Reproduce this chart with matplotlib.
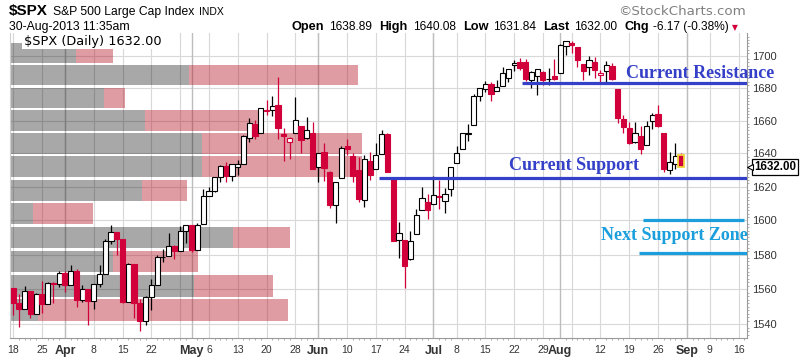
import matplotlib
matplotlib.use("Agg")
import matplotlib.pyplot as plt
import matplotlib.transforms as mtransforms
from matplotlib.patches import Rectangle
from matplotlib.ticker import FixedLocator, FixedFormatter, NullFormatter
import numpy as np
import pandas as pd

# ---------------- data ----------------
holidays = ["2013-03-29", "2013-05-27", "2013-07-04", "2013-09-02"]
sessions = pd.bdate_range("2013-03-18", "2013-09-17").drop(pd.to_datetime(holidays))

opens = [1560.70, 1552.10, 1548.34, 1558.71, 1545.90, 1556.89, 1551.69, 1563.75, 1562.86,
         1569.18, 1562.17, 1570.25, 1553.69, 1559.98, 1553.26, 1563.11, 1568.61, 1587.73, 1593.30,
         1588.84, 1552.36, 1574.57, 1552.03, 1541.61, 1555.25, 1562.50, 1578.78, 1578.93, 1585.16,
         1582.34, 1593.58,
         1597.55, 1582.77, 1597.60, 1614.40, 1617.55, 1625.95, 1632.69, 1626.69, 1632.10, 1633.75,
         1649.13, 1658.07, 1652.45, 1665.71, 1666.20, 1669.39, 1651.62, 1646.67, 1652.63, 1656.57,
         1649.14, 1652.13,
         1631.71, 1640.73, 1629.05, 1609.29, 1625.27, 1644.67, 1638.64, 1629.94, 1612.15, 1635.52,
         1630.64, 1639.77, 1651.83, 1624.62, 1588.62, 1588.77, 1577.52, 1592.27, 1606.44, 1611.12,
         1609.78, 1614.29, 1611.48, 1618.65, 1634.20, 1642.89, 1651.56, 1657.41, 1675.26, 1679.69,
         1682.70, 1677.91, 1681.05, 1686.15, 1694.41, 1696.10, 1696.06, 1685.21, 1687.31, 1690.32,
         1685.79, 1687.76,
         1689.42, 1706.10, 1708.01, 1705.79, 1695.30, 1693.35, 1696.10, 1688.37, 1690.65, 1693.88,
         1679.61, 1661.22, 1655.25, 1646.81, 1650.66, 1645.03, 1659.92, 1664.29, 1652.54, 1630.25,
         1633.50, 1638.89]
highs = [1560.70, 1557.25, 1561.56, 1558.71, 1557.74, 1564.91, 1563.95, 1564.07, 1570.28,
         1570.57, 1573.66, 1571.47, 1562.60, 1559.98, 1563.07, 1573.89, 1589.07, 1597.35, 1593.30,
         1588.84, 1575.35, 1574.57, 1554.38, 1555.89, 1565.55, 1579.58, 1583.00, 1592.64, 1585.78,
         1596.65, 1597.57,
         1597.55, 1598.60, 1618.46, 1619.77, 1626.03, 1632.78, 1635.01, 1633.70, 1636.00, 1651.10,
         1661.49, 1660.51, 1667.47, 1672.84, 1674.93, 1687.18, 1655.50, 1649.78, 1674.21, 1656.57,
         1661.91, 1658.99,
         1640.42, 1646.53, 1629.31, 1622.56, 1644.40, 1648.69, 1640.13, 1637.71, 1639.25, 1640.80,
         1646.50, 1654.19, 1652.45, 1624.62, 1599.19, 1588.77, 1593.79, 1606.83, 1620.07, 1615.94,
         1626.61, 1624.26, 1618.97, 1632.07, 1644.68, 1652.66, 1657.92, 1676.63, 1680.19, 1684.51,
         1683.73, 1684.75, 1693.12, 1692.09, 1697.61, 1698.78, 1698.38, 1690.94, 1691.85, 1690.92,
         1692.82, 1698.43,
         1707.85, 1709.67, 1709.24, 1705.79, 1695.30, 1700.18, 1699.42, 1691.49, 1696.81, 1695.52,
         1679.61, 1663.60, 1659.18, 1658.92, 1656.99, 1659.55, 1664.85, 1669.51, 1652.54, 1641.18,
         1646.41, 1640.08]
lows = [1545.13, 1538.57, 1548.34, 1543.55, 1545.90, 1546.22, 1551.69, 1551.90, 1561.08,
        1558.47, 1562.17, 1549.80, 1552.52, 1539.50, 1548.63, 1560.92, 1568.61, 1586.17, 1579.97,
        1552.28, 1552.36, 1543.69, 1536.03, 1539.40, 1548.19, 1562.50, 1575.80, 1578.93, 1577.56,
        1582.34, 1586.50,
        1581.28, 1582.77, 1597.60, 1614.21, 1616.64, 1622.70, 1623.09, 1623.71, 1626.74, 1633.75,
        1646.68, 1648.60, 1652.45, 1663.52, 1662.67, 1648.86, 1635.53, 1636.88, 1652.63, 1640.05,
        1648.61, 1630.74,
        1622.72, 1623.62, 1607.09, 1598.23, 1625.27, 1639.26, 1622.92, 1610.92, 1608.07, 1623.96,
        1630.34, 1639.77, 1628.91, 1588.14, 1577.70, 1560.33, 1577.09, 1592.27, 1606.44, 1601.06,
        1609.78, 1606.77, 1604.57, 1614.71, 1634.20, 1642.89, 1647.66, 1657.41, 1672.33, 1677.89,
        1671.84, 1677.91, 1681.05, 1684.08, 1690.67, 1691.13, 1684.33, 1680.07, 1676.03, 1681.86,
        1682.22, 1684.94,
        1689.42, 1700.68, 1701.63, 1693.29, 1684.91, 1688.38, 1686.02, 1683.35, 1682.62, 1684.83,
        1658.59, 1652.61, 1645.84, 1646.08, 1639.43, 1645.03, 1654.81, 1656.02, 1629.05, 1627.47,
        1630.88, 1631.84]
closes = [1552.10, 1548.34, 1558.71, 1545.80, 1556.89, 1551.69, 1563.77, 1562.85, 1569.19,
          1562.17, 1570.25, 1553.69, 1559.98, 1553.28, 1563.07, 1568.61, 1587.73, 1593.37, 1588.85,
          1552.36, 1574.57, 1552.01, 1541.61, 1555.25, 1562.50, 1578.78, 1578.79, 1585.16, 1582.24,
          1593.61, 1597.57,
          1582.70, 1597.59, 1614.42, 1617.50, 1625.96, 1632.69, 1626.67, 1633.70, 1633.77, 1650.34,
          1658.78, 1650.47, 1667.47, 1666.29, 1669.16, 1655.35, 1650.51, 1649.60, 1660.06, 1648.36,
          1654.41, 1630.74,
          1640.42, 1631.38, 1608.90, 1622.56, 1643.38, 1642.81, 1626.13, 1612.52, 1636.36, 1626.73,
          1639.04, 1651.81, 1628.93, 1588.19, 1592.43, 1573.09, 1588.03, 1603.26, 1613.20, 1606.28,
          1614.96, 1614.08, 1615.41, 1631.89, 1640.46, 1652.32, 1652.62, 1675.02, 1680.19, 1682.50,
          1676.26, 1680.91, 1689.37, 1692.09, 1695.53, 1692.39, 1685.94, 1690.25, 1691.65, 1685.33,
          1685.96, 1685.73,
          1706.87, 1709.67, 1707.14, 1697.37, 1690.91, 1697.48, 1691.42, 1689.47, 1694.16, 1685.39,
          1661.32, 1655.83, 1646.06, 1652.35, 1642.80, 1656.96, 1663.50, 1656.78, 1630.48, 1634.96,
          1638.17, 1632.00]
prev_close_first = 1560.70

# volume-by-price (12 price zones, lowest zone first)
vbp_up = [2.8, 18.4, 10.3, 22.3, 2.3, 13.2, 19.2, 19.2, 13.5, 9.4, 17.9, 6.6]
vbp_down = [25.0, 7.9, 8.5, 5.7, 6.0, 4.5, 16.0, 16.0, 11.5, 2.1, 16.9, 3.7]

tick_dates = ["2013-03-18", "2013-03-25", "2013-04-01", "2013-04-08", "2013-04-15", "2013-04-22",
              "2013-05-01", "2013-05-06", "2013-05-13", "2013-05-20", "2013-05-28", "2013-06-03",
              "2013-06-10", "2013-06-17", "2013-06-24", "2013-07-01", "2013-07-08", "2013-07-15",
              "2013-07-22", "2013-07-29", "2013-08-01", "2013-08-12", "2013-08-19", "2013-08-26",
              "2013-09-03", "2013-09-09", "2013-09-16"]
tick_labels = ["18", "25", "Apr", "8", "15", "22", "May", "6", "13", "20", "28", "Jun", "10", "17",
               "24", "Jul", "8", "15", "22", "29", "Aug", "12", "19", "26", "Sep", "9", "16"]
month_labels = {"Apr", "May", "Jun", "Jul", "Aug", "Sep"}
y_ticks = [1540, 1560, 1580, 1600, 1620, 1640, 1660, 1680, 1700]

resistance = 1683.0
support = 1625.5
next_zone = [1581.0, 1600.5]

# ---------------- figure ----------------
W, H = 800, 364
fig = plt.figure(figsize=(W / 100, H / 100), dpi=100)
fig.patch.set_facecolor("white")
ax = fig.add_axes([10 / W, 1 - 338 / H, 737 / W, 305 / H])
ax.set_yscale("log")
ax.set_ylim(1532.1, 1714.5)
ax.set_xlim(-0.55, 127.45)

idx = {d.strftime("%Y-%m-%d"): i for i, d in enumerate(sessions)}
s = pd.Series(np.arange(len(sessions)), index=sessions)
week_first = s.groupby(sessions.to_period("W")).min().values
month_first = s.groupby(sessions.to_period("M")).min().values

# grid
for yv in y_ticks:
    ax.axhline(yv, color="#d8d8d8", lw=0.8, zorder=0.5)
for xv in week_first:
    ax.axvline(xv, color="#d8d8d8", lw=0.8, zorder=0.5)
for xv in month_first[1:]:
    ax.axvline(xv, color="#bdbdbd", lw=1.0, zorder=0.6)

# volume by price
axv = ax.inset_axes([0, 0, 1, 1], sharey=ax, zorder=1)
axv.set_xlim(0, 73.7)
axv.axis("off")
axv.patch.set_visible(False)
edges = np.linspace(min(closes), max(closes), len(vbp_up) + 1)
bh = (edges[1:] - edges[:-1]) * 0.9
axv.barh(edges[:-1], vbp_up, height=bh, left=0, align="edge", color="black", alpha=0.34, lw=0)
axv.barh(edges[:-1], vbp_down, height=bh, left=vbp_up, align="edge", color=(0.71, 0.08, 0.14),
         alpha=0.42, lw=0)

# candles
RED = "#d2003a"
bw = 0.9
prev = prev_close_first
for i, (o, h, l, c) in enumerate(zip(opens, highs, lows, closes)):
    col = RED if c < prev else "black"
    ax.vlines(i, l, h, color=col, lw=0.9, zorder=3)
    lo, hi = min(o, c), max(o, c)
    face = "white" if c >= o else col
    ec = col
    lw = 0.8
    if i == len(closes) - 1:
        ec, lw = "#f2d43c", 1.3
    ax.add_patch(Rectangle((i - bw / 2, lo), bw, hi - lo, facecolor=face, edgecolor=ec, lw=lw, zorder=4))
    prev = c

# annotation lines
BLUE = "#3440c8"
LBLUE = "#1a9fdc"
ax.hlines(resistance, 88.4, 127.45, color=BLUE, lw=2.3, zorder=5)
ax.hlines(support, 63.5, 127.45, color=BLUE, lw=2.3, zorder=5)
ax.hlines(next_zone[1], 109.4, 126.9, color=LBLUE, lw=2.3, zorder=5)
ax.hlines(next_zone[0], 108.7, 127.45, color=LBLUE, lw=2.3, zorder=5)
serif = "Liberation Serif"
ax.text(106.4, 1686.3, "Current Resistance", family=serif, weight="bold", size=13, color=BLUE,
        va="baseline", ha="left", zorder=6, clip_on=False)
ax.text(86.1, 1630.0, "Current Support", family=serif, weight="bold", size=13, color=BLUE,
        va="baseline", ha="left", zorder=6)
ax.text(102.1, 1588.5, "Next Support Zone", family=serif, weight="bold", size=13, color=LBLUE,
        va="baseline", ha="left", zorder=6)

# axes styling
ax.spines["top"].set_visible(False)
ax.spines["left"].set_color("#cfcfcf")
ax.spines["right"].set_color("#9a9a9a")
ax.spines["bottom"].set_color("#9a9a9a")
ax.yaxis.tick_right()
ax.yaxis.set_major_locator(FixedLocator(y_ticks))
ax.yaxis.set_major_formatter(FixedFormatter([str(v) for v in y_ticks]))
ax.yaxis.set_minor_locator(FixedLocator(np.arange(1534, 1714, 2)))
ax.yaxis.set_minor_formatter(NullFormatter())
ax.tick_params(axis="y", which="major", length=0, pad=4, labelsize=8, labelcolor="#333333")
ax.tick_params(axis="y", which="minor", length=1.5, color="#a0a0a0", left=False, right=True)
ax.set_xticks([idx[d] for d in tick_dates])
ax.set_xticklabels(tick_labels)
ax.xaxis.set_minor_locator(FixedLocator(np.arange(0, 128)))
ax.tick_params(axis="x", which="major", length=0, pad=5, labelsize=7.5, labelcolor="#333333")
ax.tick_params(axis="x", which="minor", length=1.5, color="#a0a0a0")
for lab in ax.get_xticklabels():
    lab.set_family("Liberation Sans")
    if lab.get_text() in month_labels:
        lab.set_fontweight("bold")
        lab.set_fontsize(9)
for lab in ax.get_yticklabels():
    lab.set_family("Liberation Sans")

# last-price tag
bt = mtransforms.blended_transform_factory(ax.transAxes, ax.transData)
ax.text(1.0095, closes[-1], "%.2f" % closes[-1], transform=bt, family="Liberation Sans", weight="bold",
        size=8.3, va="center", ha="left", clip_on=False, zorder=7,
        bbox=dict(boxstyle="square,pad=0.18", fc="white", ec="black", lw=0.9))
ax.plot([1.0035], [closes[-1]], transform=bt, marker="<", ms=4.5, mfc="white", mec="black",
        mew=0.8, clip_on=False, zorder=8)

# in-chart title
fig.text(24 / W, 1 - 41 / H, "$SPX (Daily) %.2f" % closes[-1], family="DejaVu Sans", size=9.3,
         va="center", ha="left",
         bbox=dict(boxstyle="square,pad=0.12", fc="white", ec="none"))

# header
def px(x, y):
    return x / W, 1 - y / H

fig.canvas.draw()
r = fig.canvas.get_renderer()

def chain(x, y, pieces):
    for txt, kw, gap in pieces:
        t = fig.text(*px(x, y), txt, va="baseline", ha="left", **kw)
        x += t.get_window_extent(r).width + gap
    return x

SANS = "Liberation Sans"
chain(9, 15, [("$SPX", dict(family=SANS, weight="bold", size=11), 5),
              ("S&P 500 Large Cap Index", dict(family=SANS, size=8.7), 5),
              ("INDX", dict(family=SANS, size=7.5), 0)])
fig.text(*px(9, 30), "30-Aug-2013 11:35am", family=SANS, size=8.8, va="baseline", ha="left")
chg = closes[-1] - closes[-2]
b = dict(family=SANS, weight="bold", size=9.2)
n = dict(family=SANS, size=8.6)
chain(292, 30, [("Open", b, 5), ("%.2f" % opens[-1], n, 7),
                ("High", b, 5), ("%.2f" % highs[-1], n, 7),
                ("Low", b, 5), ("%.2f" % lows[-1], n, 7),
                ("Last", b, 5), ("%.2f" % closes[-1], n, 7),
                ("Chg", b, 4), ("%.2f (%.2f%%)" % (chg, chg / closes[-2] * 100), n, 3),
                ("\u25BC", dict(family="DejaVu Sans", size=5.5, color=RED), 0)])
fig.text(*px(746, 15), "\u00A9StockCharts.com", family="DejaVu Sans", size=9.6, color="#808080",
         va="baseline", ha="right")

fig.savefig("out.png", dpi=100)
